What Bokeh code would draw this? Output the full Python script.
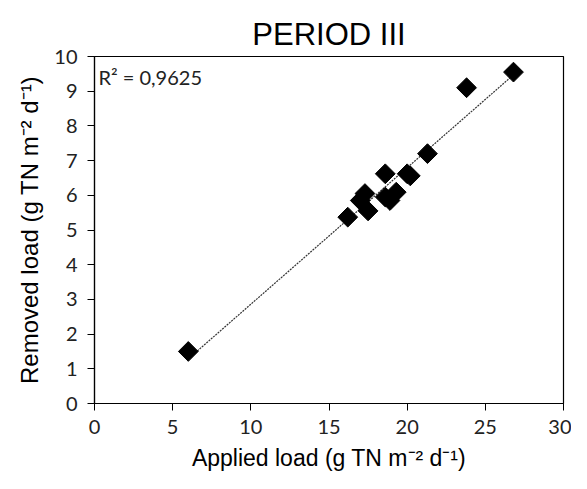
import numpy as np
from bokeh.plotting import figure
from bokeh.models import Label, FixedTicker, Range1d
from bokeh.embed import file_html
from bokeh.resources import INLINE

applied = [6.0, 16.2, 17.0, 17.3, 17.5, 18.6, 18.6, 18.9, 19.3, 20.0, 20.2, 21.3, 23.8, 26.8]
removed = [1.5, 5.37, 5.85, 6.05, 5.55, 6.62, 5.95, 5.85, 6.09, 6.62, 6.56, 7.2, 9.1, 9.55]
x_ticks = [0, 5, 10, 15, 20, 25, 30]
y_ticks = list(range(0, 11))
title_text = "PERIOD III"
r2_text = "R² = 0,9625"

p = figure(width=571, height=473, output_backend="svg", toolbar_location=None,
           x_range=Range1d(0, 30), y_range=Range1d(0, 10),
           min_border_left=94, min_border_right=8, min_border_top=56, min_border_bottom=70)
p.title.text = title_text
p.title.align = "center"
p.title.text_font = "Liberation Sans"
p.title.text_font_size = "31px"
p.title.text_font_style = "normal"
p.title.text_color = "black"
p.title.standoff = 10

p.xgrid.visible = False
p.ygrid.visible = False
p.outline_line_color = "black"
p.outline_line_width = 1.2

for ax in (p.xaxis[0], p.yaxis[0]):
    ax.axis_line_color = "black"
    ax.axis_line_width = 1.2
    ax.major_tick_line_color = "black"
    ax.major_tick_out = 7
    ax.major_tick_in = 0
    ax.minor_tick_line_color = None
    ax.major_label_text_font = "Lato"
    ax.major_label_text_font_size = "20px"
    ax.major_label_text_color = "#222222"
    ax.axis_label_text_font_style = "normal"
    ax.axis_label_text_color = "black"
    ax.axis_label_text_font = "Liberation Sans"

p.xaxis.ticker = FixedTicker(ticks=x_ticks)
p.yaxis.ticker = FixedTicker(ticks=y_ticks)
p.xaxis.major_label_standoff = 9
p.yaxis.major_label_standoff = 10
p.xaxis.axis_label = "Applied load (g TN m⁻² d⁻¹)"
p.xaxis.axis_label_text_font_size = "23px"
p.xaxis.axis_label_standoff = 8
p.yaxis.axis_label = "Removed load (g TN m⁻² d⁻¹)"
p.yaxis.axis_label_text_font_size = "24px"
p.yaxis.axis_label_standoff = 8

xa = np.array(applied)
ya = np.array(removed)
slope, intercept = np.polyfit(xa, ya, 1)
xl = np.array([xa.min(), xa.max()])
p.line(xl, slope * xl + intercept, line_color="#333333", line_width=1.2, line_dash="2 1")

p.scatter(applied, removed, marker="square", size=14, angle=np.pi / 4,
          fill_color="black", line_color="black")

p.add_layout(Label(x=0.25, y=9.42, text=r2_text, text_font="Lato", text_font_size="20px",
                   text_color="#222222", text_baseline="middle"))

open("out.html", "w").write(file_html(p, INLINE))
